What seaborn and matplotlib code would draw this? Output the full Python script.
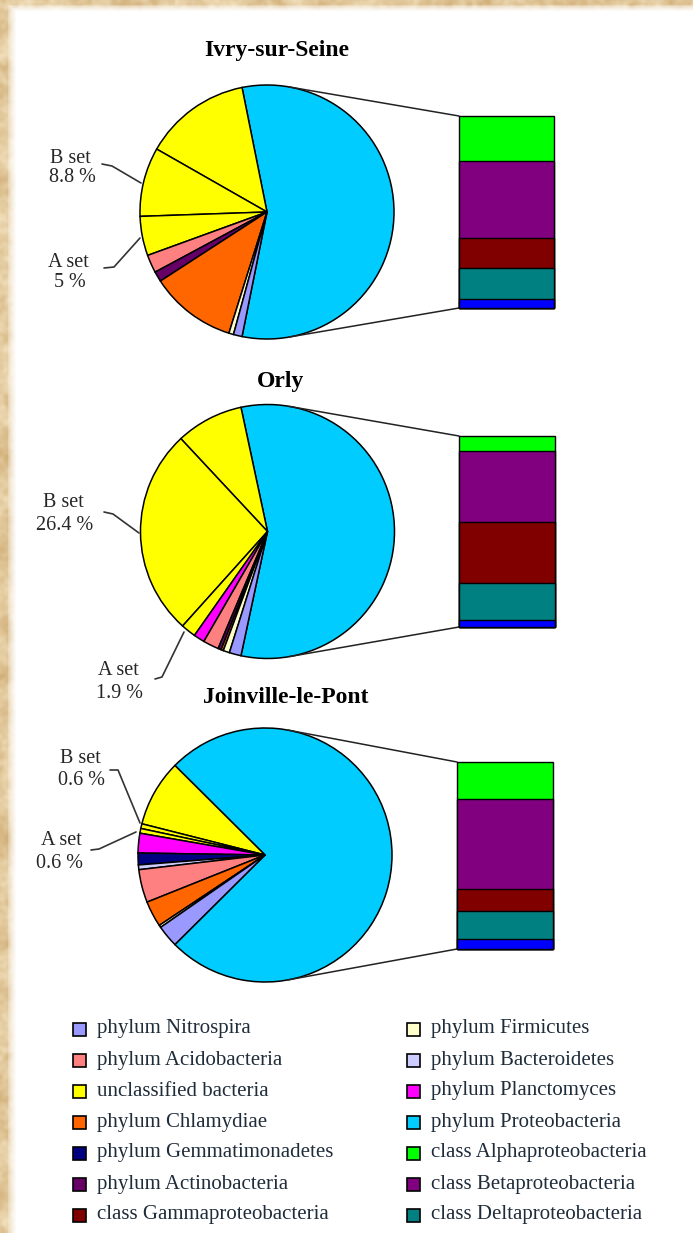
import numpy as np
import matplotlib
matplotlib.use("Agg")
import matplotlib.pyplot as plt
from matplotlib.patches import Rectangle
import pandas as pd
import seaborn as sns

# ---------------------------------------------------------------- data
sites = ["Ivry-sur-Seine", "Orly", "Joinville-le-Pont"]

# Pie wedges (% of clones), listed counter-clockwise after the Proteobacteria wedge
unclassified_other = [13.6, 8.6, 8.5]
b_set = [8.8, 26.4, 0.6]
a_set = [5.0, 1.9, 0.6]
planctomyces = [0.0, 1.4, 2.5]
gemmatimonadetes = [0.0, 0.0, 1.5]
bacteroidetes = [0.0, 0.0, 0.6]
acidobacteria = [2.3, 2.0, 4.2]
actinobacteria = [1.3, 0.4, 0.0]
chlamydiae = [11.0, 0.3, 3.3]
firmicutes = [0.6, 0.8, 0.3]
nitrospira = [1.1, 1.5, 2.8]

# Proteobacteria split into classes (bar, bottom to top)
other_proteo = [2.7, 2.2, 4.2]
delta = [8.9, 10.9, 11.0]
gamma = [9.0, 18.0, 8.7]
beta = [22.5, 21.0, 36.2]
alpha = [13.2, 4.6, 15.0]

b_labels = ["B set\n8.8 %", "B set\n26.4 %", "B set\n0.6 %"]
a_labels = ["A set\n5 %", "A set\n1.9 %", "A set\n0.6 %"]

legend_left = ["phylum Nitrospira", "phylum Acidobacteria", "unclassified bacteria",
               "phylum Chlamydiae", "phylum Gemmatimonadetes", "phylum Actinobacteria",
               "class Gammaproteobacteria"]
legend_right = ["phylum Firmicutes", "phylum Bacteroidetes", "phylum Planctomyces",
                "phylum Proteobacteria", "class Alphaproteobacteria",
                "class Betaproteobacteria", "class Deltaproteobacteria"]

# ---------------------------------------------------------------- colours
C = {
    "Nitrospira": "#9999FF", "Acidobacteria": "#FF8080", "unclassified": "#FFFF00",
    "Chlamydiae": "#FF6600", "Gemmatimonadetes": "#000080", "Actinobacteria": "#660066",
    "Gamma": "#800000", "Firmicutes": "#FFFFCC", "Bacteroidetes": "#CCCCFF",
    "Planctomyces": "#FF00FF", "Proteobacteria": "#00CCFF", "Alpha": "#00FF00",
    "Beta": "#800080", "Delta": "#008080", "OtherProteo": "#0000FF",
}
legend_left_colors = [C["Nitrospira"], C["Acidobacteria"], C["unclassified"], C["Chlamydiae"],
                      C["Gemmatimonadetes"], C["Actinobacteria"], C["Gamma"]]
legend_right_colors = [C["Firmicutes"], C["Bacteroidetes"], C["Planctomyces"],
                       C["Proteobacteria"], C["Alpha"], C["Beta"], C["Delta"]]

sns.set_theme(style="white")
plt.rcParams["font.family"] = ["Liberation Serif", "DejaVu Serif"]

W, H = 693, 1233
fig = plt.figure(figsize=(W / 100, H / 100), dpi=100)


def Y(y):
    return H - y


# ---------------------------------------------------------------- parchment backdrop
rng = np.random.default_rng(11)


def smooth_noise(sigma):
    n = rng.standard_normal((H, W))
    ky = np.fft.fftfreq(H)[:, None]
    kx = np.fft.fftfreq(W)[None, :]
    f = np.exp(-(kx ** 2 + ky ** 2) / (2 * sigma ** 2))
    s = np.real(np.fft.ifft2(np.fft.fft2(n) * f))
    return (s - s.mean()) / s.std()


tex = 0.6 * smooth_noise(0.02) + 0.4 * smooth_noise(0.08)
t = np.clip(0.5 + 0.25 * tex, 0, 1)[..., None]
light = np.array([243, 226, 192]) / 255
dark = np.array([210, 176, 122]) / 255
paper = light * (1 - t) + dark * t

# white sheet over the parchment, with a soft edge on its left and top sides
xs = np.arange(W)[None, :]
ys = np.arange(H)[:, None]
wx = np.clip((xs - 7) / 9.0, 0, 1)
wy = np.clip((ys - 4) / 7.0, 0, 1)
white_w = (np.minimum(wx, wy) ** 0.6)[..., None]
img = paper * (1 - white_w) + np.ones(3) * white_w

bg = fig.add_axes([0, 0, 1, 1])
bg.imshow(img, aspect="auto", extent=(0, W, 0, H), origin="upper")
bg.axis("off")

ax = fig.add_axes([0, 0, 1, 1])
ax.patch.set_alpha(0)

# ---------------------------------------------------------------- layout
pie_centers = [(267, 212), (267.5, 531.5), (265, 855)]
R = 127
bar_boxes = [(459, 116, 554, 308), (459, 436, 555, 627), (457, 762, 553, 949)]
titles_xy = [(277, 56), (281, 387), (286, 703)]
b_text = [((70, 163), (72, 182)), ((63, 507), (65, 530)), ((80, 763), (81, 785))]
a_text = [((68, 267), (70, 287)), ((118, 675), (119, 698)), ((61, 845), (59, 868))]
b_lead = [[(102, 164), (112, 166), (141, 183)],
          [(104, 512), (113, 514), (139, 533)],
          [(110, 770), (118, 770), (140, 823)]]
a_lead = [[(104, 268), (114, 267), (140, 238)],
          [(155, 679), (162, 677), (184, 632)],
          [(91, 850), (99, 849), (136, 832)]]

wedge_cols = [C["Proteobacteria"], C["unclassified"], C["unclassified"], C["unclassified"],
              C["Planctomyces"], C["Gemmatimonadetes"], C["Bacteroidetes"],
              C["Acidobacteria"], C["Actinobacteria"], C["Chlamydiae"],
              C["Firmicutes"], C["Nitrospira"]]

for i, site in enumerate(sites):
    proteo = other_proteo[i] + delta[i] + gamma[i] + beta[i] + alpha[i]
    vals = [proteo, unclassified_other[i], b_set[i], a_set[i], planctomyces[i],
            gemmatimonadetes[i], bacteroidetes[i], acidobacteria[i], actinobacteria[i],
            chlamydiae[i], firmicutes[i], nitrospira[i]]
    keep = [k for k, v in enumerate(vals) if v > 0]
    cx, cy = pie_centers[i]
    ax.pie([vals[k] for k in keep], colors=[wedge_cols[k] for k in keep],
           startangle=-proteo / sum(vals) * 360 / 2, counterclock=True,
           center=(cx, Y(cy)), radius=R, frame=True,
           wedgeprops=dict(edgecolor="black", linewidth=1.1))

    # connectors: tangents from the bar's left corners to the pie
    x0, y0, x1, y1 = bar_boxes[i]
    for (px, py), sign in (((x0, Y(y0)), 1), ((x0, Y(y1)), -1)):
        dx, dy = px - cx, py - Y(cy)
        d = np.hypot(dx, dy)
        ang = np.arctan2(dy, dx) + sign * np.arccos(R / d)
        tx, ty = cx + R * np.cos(ang), Y(cy) + R * np.sin(ang)
        ax.plot([tx, px], [ty, py], color="#222222", lw=1.1, zorder=5)

    # stacked class bar
    bax = fig.add_axes([x0 / W, 1 - y1 / H, (x1 - x0) / W, (y1 - y0) / H])
    stack = [other_proteo[i], delta[i], gamma[i], beta[i], alpha[i]]
    stack_cols = [C["OtherProteo"], C["Delta"], C["Gamma"], C["Beta"], C["Alpha"]]
    cum = np.cumsum(stack)
    for k in reversed(range(len(stack))):
        df = pd.DataFrame({"site": [site], "share": [cum[k]]})
        sns.barplot(data=df, x="site", y="share", color=stack_cols[k], saturation=1,
                    width=1, edgecolor="black", linewidth=1.0, errorbar=None, ax=bax)
    for p in bax.patches:
        p.set_clip_on(False)
    bax.set_xlim(-0.5, 0.5)
    bax.set_ylim(0, cum[-1])
    bax.axis("off")

    # title and set annotations
    tx_, ty_ = titles_xy[i]
    ax.text(tx_, Y(ty_), site, ha="center", va="baseline", fontsize=17,
            fontweight="bold", color="black")
    for lab, pos in ((b_labels[i], b_text[i]), (a_labels[i], a_text[i])):
        for line, (lx, ly) in zip(lab.split("\n"), pos):
            ax.text(lx, Y(ly), line, ha="center", va="baseline", fontsize=14.5,
                    color="#262626")
    for pts in (b_lead[i], a_lead[i]):
        ax.plot([p[0] for p in pts], [Y(p[1]) for p in pts], color="#333333", lw=1.2,
                zorder=5)

# ---------------------------------------------------------------- legend
for col, (labels, cols, sx) in enumerate(((legend_left, legend_left_colors, 73),
                                          (legend_right, legend_right_colors, 407))):
    for r, (lab, c) in enumerate(zip(labels, cols)):
        yc = 1029 + 31 * r
        ax.add_patch(Rectangle((sx, Y(yc) - 6.5), 13, 13, facecolor=c, edgecolor="black",
                               linewidth=1.2, zorder=5))
        ax.text(sx + 24, Y(yc), lab, ha="left", va="center", fontsize=15,
                color="#1f2c3a")

ax.set_xlim(0, W)
ax.set_ylim(0, H)
ax.set_aspect("auto")
ax.axis("off")

fig.savefig("out.png", dpi=100)
